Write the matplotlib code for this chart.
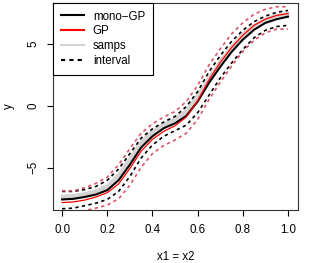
import matplotlib
matplotlib.use('Agg')
import matplotlib.pyplot as plt
from matplotlib.lines import Line2D

# Data (x1 = x2 grid)
x = [0.00, 0.05, 0.10, 0.15, 0.20, 0.25, 0.30, 0.35, 0.40, 0.45, 0.50,
     0.55, 0.60, 0.65, 0.70, 0.75, 0.80, 0.85, 0.90, 0.95, 1.00]

mono_gp = [-7.55, -7.5, -7.35, -7.15, -6.8, -6.0, -4.75, -3.35, -2.45, -1.8, -1.4,
           -0.8, 0.35, 1.85, 3.15, 4.35, 5.35, 6.15, 6.7, 7.0, 7.2]
gp = [-7.8, -7.75, -7.6, -7.35, -7.0, -6.3, -5.05, -3.65, -2.7, -2.05, -1.6,
      -0.9, 0.4, 2.1, 3.5, 4.7, 5.7, 6.5, 7.0, 7.3, 7.45]

samp1 = [-7.35, -7.3, -7.15, -6.9, -6.5, -5.6, -4.3, -2.95, -2.1, -1.5, -1.05,
         -0.4, 0.8, 2.25, 3.55, 4.75, 5.75, 6.5, 7.0, 7.3, 7.45]
samp2 = [-7.25, -7.2, -7.05, -6.8, -6.4, -5.5, -4.2, -2.85, -2.0, -1.45, -1.0,
         -0.35, 0.9, 2.35, 3.65, 4.85, 5.85, 6.55, 7.05, 7.35, 7.5]
samp3 = [-7.45, -7.4, -7.25, -7.0, -6.65, -5.8, -4.5, -3.1, -2.25, -1.65, -1.15,
         -0.55, 0.6, 2.1, 3.4, 4.6, 5.6, 6.4, 6.9, 7.2, 7.35]

mono_upper = [-6.9, -6.9, -6.75, -6.5, -6.0, -5.1, -3.85, -2.6, -1.85, -1.3, -0.85,
              -0.05, 1.15, 2.75, 4.05, 5.2, 6.1, 6.8, 7.25, 7.55, 7.7]
mono_lower = [-8.3, -8.25, -8.05, -7.85, -7.55, -6.9, -5.7, -4.2, -3.15, -2.45, -2.0,
              -1.55, -0.55, 0.85, 2.25, 3.45, 4.55, 5.5, 6.1, 6.4, 6.5]
gp_upper = [-6.85, -6.85, -6.6, -6.25, -5.75, -4.75, -3.45, -2.2, -1.45, -0.9, -0.45,
            0.35, 1.65, 3.3, 4.6, 5.8, 6.7, 7.4, 7.8, 8.0, 8.0]
gp_lower = [-8.8, -8.7, -8.45, -8.25, -8.0, -7.5, -6.4, -4.95, -3.85, -3.2, -2.75,
            -2.2, -1.1, 0.5, 1.9, 3.2, 4.4, 5.3, 5.9, 6.2, 6.2]

legend_labels = ['mono\u2212GP', 'GP', 'samps', 'interval']

plt.rcParams['font.family'] = ['Liberation Sans', 'DejaVu Sans']

fig = plt.figure(figsize=(3.12, 2.63), dpi=100)
ax = fig.add_axes([0.170, 0.2015, 0.785, 0.787])

# samples first, so the fits sit on top
for s in [samp1, samp2, samp3]:
    ax.plot(x, s, color='lightgray', linewidth=1.6, zorder=1)

ax.plot(x, mono_gp, color='black', linewidth=1.5, zorder=3)
ax.plot(x, gp, color='red', linewidth=0.9, zorder=3)

dash = (0, (2, 2))
ax.plot(x, mono_upper, color='black', linewidth=1.2, linestyle=dash, zorder=2)
ax.plot(x, mono_lower, color='black', linewidth=1.2, linestyle=dash, zorder=2)
ax.plot(x, gp_upper, color='#DF536B', linewidth=1.2, linestyle=dash, zorder=2)
ax.plot(x, gp_lower, color='#DF536B', linewidth=1.2, linestyle=dash, zorder=2)

ax.set_xlim(-0.04, 1.044)
ax.set_ylim(-8.4, 8.3)
ax.set_xticks([0.0, 0.2, 0.4, 0.6, 0.8, 1.0])
ax.set_yticks([-5, 0, 5])
ax.set_yticklabels(['\u22125', '0', '5'], rotation=90, va='center')
ax.tick_params(direction='out', length=4, width=0.8, labelsize=8.3, pad=6)
for sp in ax.spines.values():
    sp.set_color('#333333')
    sp.set_linewidth(0.8)

ax.set_xlabel('x1 = x2', fontsize=8.3, labelpad=11)
ax.set_ylabel('y', fontsize=8.3, labelpad=9)

handles = [
    Line2D([], [], color='black', linewidth=1.5),
    Line2D([], [], color='red', linewidth=1.5),
    Line2D([], [], color='lightgray', linewidth=1.5),
    Line2D([], [], color='black', linewidth=1.5, linestyle=dash),
]
leg = ax.legend(handles, legend_labels, loc='upper left', fontsize=8.3,
                borderaxespad=0, fancybox=False, framealpha=1,
                edgecolor='black', handlelength=2.0, handletextpad=0.8,
                labelspacing=0.25, borderpad=0.65)
leg.get_frame().set_linewidth(0.8)

plt.savefig('out.png', dpi=100)
plt.close()
